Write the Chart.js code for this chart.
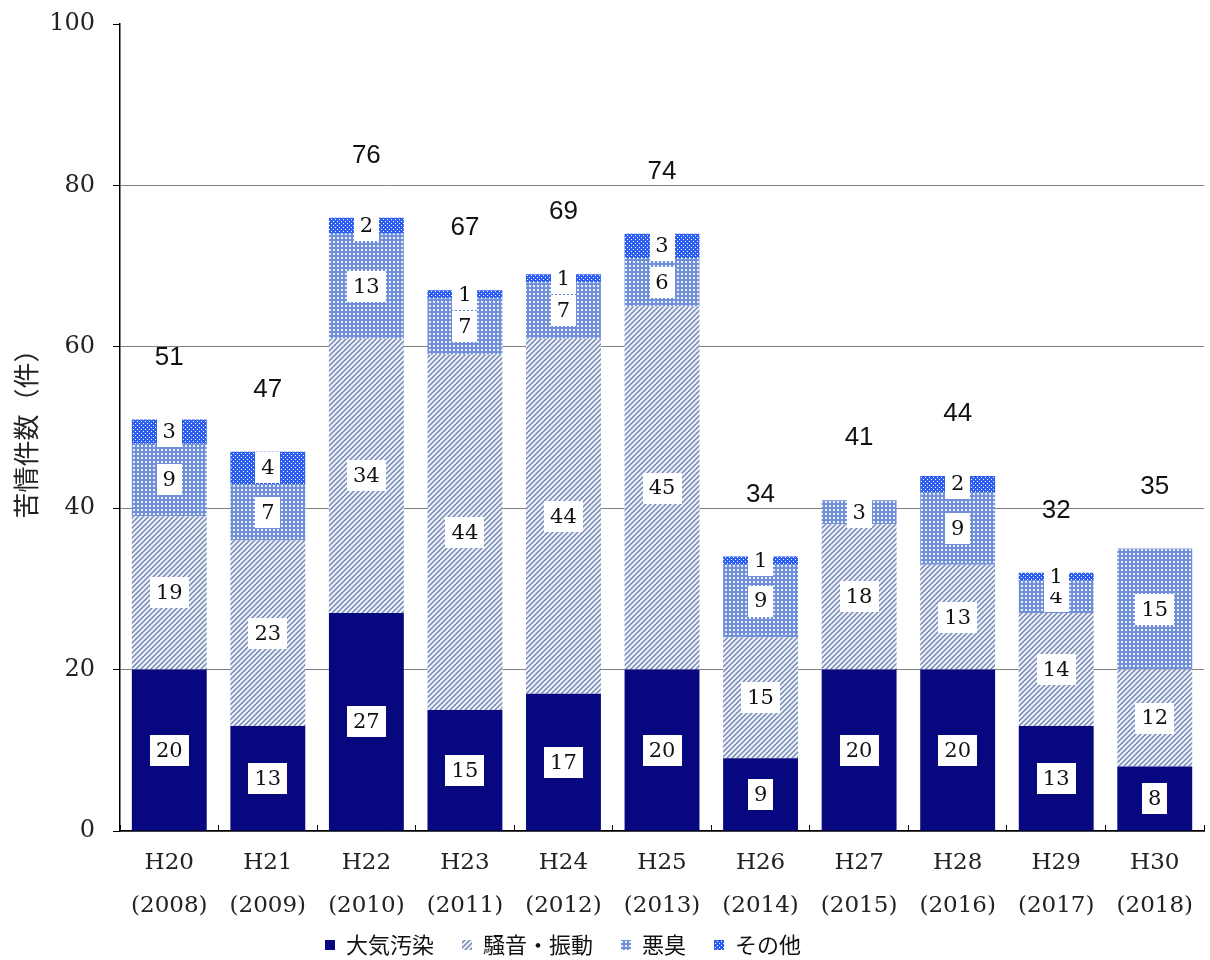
<!DOCTYPE html>
<html lang="ja">
<head>
<meta charset="utf-8">
<title>苦情件数の推移</title>
<script src="https://cdn.jsdelivr.net/npm/chart.js@4/dist/chart.umd.min.js"></script>
<style>
  html, body { margin: 0; padding: 0; background: #ffffff; }
  #wrap { width: 1210px; height: 960px; }
</style>
</head>
<body>
<div id="wrap"><canvas id="chart" width="1210" height="960"></canvas></div>
<script>
// Fiscal years (Heisei era with western year)
const years = [
  ['H20', '(2008)'], ['H21', '(2009)'], ['H22', '(2010)'], ['H23', '(2011)'],
  ['H24', '(2012)'], ['H25', '(2013)'], ['H26', '(2014)'], ['H27', '(2015)'],
  ['H28', '(2016)'], ['H29', '(2017)'], ['H30', '(2018)']
];

// Complaint counts by type
const airPollution   = [20, 13, 27, 15, 17, 20,  9, 20, 20, 13,  8];
const noiseVibration = [19, 23, 34, 44, 44, 45, 15, 18, 13, 14, 12];
const odor           = [ 9,  7, 13,  7,  7,  6,  9,  3,  9,  4, 15];
const other          = [ 3,  4,  2,  1,  1,  3,  1,  0,  2,  1,  0];

const seriesNames = ['大気汚染', '騒音・振動', '悪臭', 'その他'];

// Value axis range
const yMin = 0;
const yMax = 100;
const yStep = 20;

const totals = years.map((_, i) => airPollution[i] + noiseVibration[i] + odor[i] + other[i]);

// ---- fill patterns ----
function makeTile(size, paint) {
  const c = document.createElement('canvas');
  c.width = size; c.height = size;
  const g = c.getContext('2d');
  paint(g, size);
  return document.getElementById('chart').getContext('2d').createPattern(c, 'repeat');
}

const hatchFill = makeTile(5, (g, s) => {
  g.fillStyle = '#eef1f9';
  g.fillRect(0, 0, s, s);
  g.strokeStyle = '#7084b2';
  g.lineWidth = 1.4;
  g.beginPath();
  g.moveTo(0, s); g.lineTo(s, 0);
  g.moveTo(-1, 1); g.lineTo(1, -1);
  g.moveTo(s - 1, s + 1); g.lineTo(s + 1, s - 1);
  g.stroke();
});

const meshFill = makeTile(4, (g, s) => {
  g.fillStyle = '#7290d8';
  g.fillRect(0, 0, s, s);
  g.fillStyle = '#e8eefb';
  g.fillRect(1, 1, 2, 2);
});

const dotFill = makeTile(4, (g, s) => {
  g.fillStyle = '#2c5ff0';
  g.fillRect(0, 0, s, s);
  g.fillStyle = '#ffffff';
  g.fillRect(1, 1, 1, 1);
  g.fillRect(3, 3, 1, 1);
});

const SERIF = '"DejaVu Serif", "Liberation Serif", serif';
const CJK = '"Noto Sans CJK JP", "Noto Sans", sans-serif';

// White-boxed value labels in each segment and totals above each bar
const segmentLabels = {
  id: 'segmentLabels',
  afterDatasetsDraw(chart) {
    const ctx = chart.ctx;
    ctx.save();
    ctx.textAlign = 'center';
    ctx.textBaseline = 'middle';
    ctx.font = '21px ' + SERIF;
    chart.data.datasets.forEach((ds, di) => {
      const meta = chart.getDatasetMeta(di);
      meta.data.forEach((bar, i) => {
        const v = ds.data[i];
        if (!v) return;
        const cy = (bar.y + bar.base) / 2;
        const t = String(v);
        const w = Math.round(ctx.measureText(t).width + 12);
        const h = 31;
        ctx.fillStyle = '#ffffff';
        ctx.fillRect(Math.round(bar.x - w / 2), Math.round(cy - h / 2), w, h);
        ctx.fillStyle = '#111111';
        ctx.fillText(t, bar.x, cy + 1);
      });
    });
    const yScale = chart.scales.y;
    const base = chart.getDatasetMeta(0).data;
    ctx.font = '26px "Liberation Sans", Arial, sans-serif';
    ctx.fillStyle = '#111111';
    totals.forEach((t, i) => {
      ctx.fillText(String(t), base[i].x, yScale.getPixelForValue(t) - 62);
    });
    ctx.restore();
  }
};

// Move the legend row down to the bottom edge and slightly left
const legendPlacement = {
  id: 'legendPlacement',
  afterLayout(chart) {
    const l = chart.legend;
    if (!l) return;
    const dy = 906 - l.top;
    l.top += dy; l.bottom += dy;
    l.left -= 42; l.right -= 42;
  }
};

const ctx = document.getElementById('chart').getContext('2d');
new Chart(ctx, {
  type: 'bar',
  data: {
    labels: years,
    datasets: [
      { label: seriesNames[0], data: airPollution,   backgroundColor: '#07077f' },
      { label: seriesNames[1], data: noiseVibration, backgroundColor: hatchFill },
      { label: seriesNames[2], data: odor,           backgroundColor: meshFill },
      { label: seriesNames[3], data: other,          backgroundColor: dotFill }
    ]
  },
  options: {
    responsive: false,
    animation: false,
    devicePixelRatio: 1,
    layout: { padding: { top: 24, right: 0, left: 0, bottom: -31 } },
    datasets: { bar: { categoryPercentage: 1, barPercentage: 0.76, borderWidth: 0 } },
    plugins: {
      legend: {
        position: 'bottom',
        labels: {
          boxWidth: 10,
          boxHeight: 10,
          padding: 28,
          color: '#111111',
          font: { family: CJK, size: 22 }
        }
      },
      tooltip: { enabled: false }
    },
    scales: {
      x: {
        stacked: true,
        afterFit(scale) { scale.height = 100; },
        grid: {
          offset: true,
          drawOnChartArea: false,
          tickLength: -6,
          color: '#000000'
        },
        border: { display: true, color: '#000000', width: 1.5 },
        ticks: {
          color: '#222222',
          padding: 17,
          maxRotation: 0,
          autoSkip: false,
          font: { family: SERIF, size: 23, lineHeight: 1.87 }
        }
      },
      y: {
        stacked: true,
        min: yMin,
        max: yMax,
        afterFit(scale) {
          scale.width = 120;
          scale.paddingTop = 0;
          scale.paddingBottom = 0;
        },
        grid: {
          color: (c) => (c.tick && c.tick.value === yMax) ? 'rgba(0,0,0,0)' : '#808080',
          tickColor: '#000000',
          tickLength: 7,
          lineWidth: 1
        },
        border: { display: true, color: '#000000', width: 1.5 },
        ticks: {
          stepSize: yStep,
          color: '#222222',
          padding: 18,
          font: { family: SERIF, size: 24 }
        },
        title: {
          display: true,
          text: '苦情件数（件）',
          color: '#222222',
          padding: { top: 11, bottom: 0 },
          font: { family: CJK, size: 26 }
        }
      }
    }
  },
  plugins: [segmentLabels, legendPlacement]
});
</script>
</body>
</html>
